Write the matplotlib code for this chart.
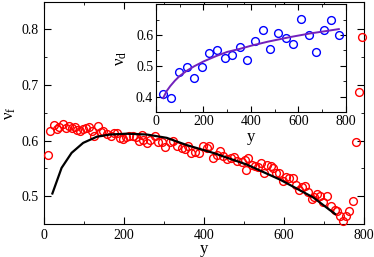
import matplotlib
matplotlib.use("Agg")
import matplotlib.pyplot as plt
import numpy as np

plt.rcParams['font.family'] = ['Liberation Serif', 'DejaVu Serif']
plt.rcParams['mathtext.fontset'] = 'custom'
plt.rcParams['mathtext.rm'] = 'Liberation Serif'
plt.rcParams['mathtext.it'] = 'Liberation Serif'

# main panel: red points
yf = [11, 15, 25, 32, 38, 48, 55, 63, 69, 77, 83, 90, 97, 104, 112, 119, 125, 136, 142, 148,
      157, 167, 175, 183, 190, 197, 205, 213, 222, 230, 238, 244, 248, 257, 265, 277, 286, 294,
      302, 315, 323, 333, 344, 352, 361, 367, 377, 388, 398, 407, 413, 422, 432, 440, 448, 458,
      467, 475, 483, 494, 502, 505, 511, 519, 527, 536, 542, 550, 558, 567, 573, 580, 588, 597,
      605, 613, 622, 630, 638, 644, 652, 661, 669, 675, 683, 690, 697, 708, 717, 728, 733, 740,
      748, 755, 763, 772, 780, 787, 794]
vf = [0.575, 0.618, 0.629, 0.621, 0.624, 0.630, 0.623, 0.627, 0.623, 0.625, 0.620, 0.617, 0.621,
      0.623, 0.624, 0.617, 0.608, 0.626, 0.615, 0.618, 0.612, 0.608, 0.614, 0.614, 0.605, 0.603,
      0.607, 0.608, 0.609, 0.607, 0.599, 0.611, 0.602, 0.596, 0.601, 0.608, 0.597, 0.597, 0.589,
      0.597, 0.599, 0.590, 0.587, 0.585, 0.591, 0.578, 0.579, 0.578, 0.591, 0.587, 0.590, 0.569,
      0.575, 0.581, 0.572, 0.567, 0.569, 0.571, 0.563, 0.561, 0.566, 0.548, 0.569, 0.557, 0.554,
      0.553, 0.559, 0.541, 0.557, 0.555, 0.551, 0.542, 0.542, 0.527, 0.535, 0.532, 0.533, 0.520,
      0.511, 0.516, 0.518, 0.507, 0.495, 0.498, 0.504, 0.501, 0.490, 0.501, 0.483, 0.476, 0.474,
      0.464, 0.456, 0.464, 0.474, 0.492, 0.597, 0.687, 0.787]

# main panel: black curve
fit_y = [21, 44, 69, 98, 132, 165, 207, 257, 307, 357, 423, 507, 590, 673, 728]
fit_v = [0.505, 0.551, 0.578, 0.596, 0.607, 0.611, 0.6125, 0.611, 0.605, 0.592, 0.578, 0.557,
         0.530, 0.498, 0.468]

# inset: blue points
yd = [31, 63, 97, 129, 160, 192, 225, 257, 289, 321, 354, 384, 417, 449, 481, 514, 546, 578,
      611, 643, 675, 707, 738, 771]
vd = [0.410, 0.396, 0.480, 0.496, 0.459, 0.496, 0.541, 0.551, 0.526, 0.534, 0.562, 0.518, 0.579,
      0.617, 0.553, 0.606, 0.589, 0.570, 0.651, 0.601, 0.544, 0.617, 0.648, 0.600]

# inset: purple curve
dfit_y = [30, 45, 60, 80, 100, 130, 160, 200, 255, 300, 354, 400, 470, 564, 650, 720, 770]
dfit_v = [0.395, 0.418, 0.434, 0.452, 0.467, 0.484, 0.498, 0.514, 0.532, 0.545, 0.555, 0.565,
          0.578, 0.593, 0.605, 0.613, 0.619]

fig = plt.figure(figsize=(3.74, 2.57), dpi=100)
ax = fig.add_axes([0.1176, 0.128, 0.8556, 0.866])
ax.plot(yf, vf, 'o', mfc='none', mec='#ff0000', mew=1.0, ms=5.6, clip_on=False, zorder=3)
ax.plot(fit_y, fit_v, '-', color='black', lw=1.6, zorder=4)
ax.set_xlim(0, 800)
ax.set_ylim(0.45, 0.85)
ax.set_xticks([0, 200, 400, 600, 800])
ax.set_xticks([100, 300, 500, 700], minor=True)
ax.set_yticks([0.5, 0.6, 0.7, 0.8])
ax.set_yticks([0.45, 0.55, 0.65, 0.75, 0.85], minor=True)
ax.tick_params(which='both', direction='in', top=True, right=True, labelsize=10)
ax.tick_params(which='major', length=5)
ax.tick_params(which='minor', length=2.5)
ax.set_xlabel('y', fontsize=12, labelpad=-0.5)
ax.set_ylabel(r'$\mathregular{\nu_f}$', fontsize=12, labelpad=3)

ins = fig.add_axes([0.417, 0.564, 0.508, 0.42])
ins.plot(yd, vd, 'o', mfc='none', mec='#0000ff', mew=1.0, ms=5.6)
ins.plot(dfit_y, dfit_v, '-', color='#7221bc', lw=1.4)
ins.set_xlim(0, 800)
ins.set_ylim(0.35, 0.7)
ins.set_xticks([0, 200, 400, 600, 800])
ins.set_xticks([100, 300, 500, 700], minor=True)
ins.set_yticks([0.4, 0.5, 0.6])
ins.set_yticks([0.35, 0.45, 0.55, 0.65], minor=True)
ins.tick_params(which='both', direction='in', top=True, right=True, labelsize=10, pad=2)
ins.tick_params(which='major', length=4)
ins.tick_params(which='minor', length=2)
ins.set_xlabel('y', fontsize=12, labelpad=1)
ins.set_ylabel(r'$\mathregular{\nu_d}$', fontsize=12, labelpad=5)

fig.savefig('out.png', dpi=100)
